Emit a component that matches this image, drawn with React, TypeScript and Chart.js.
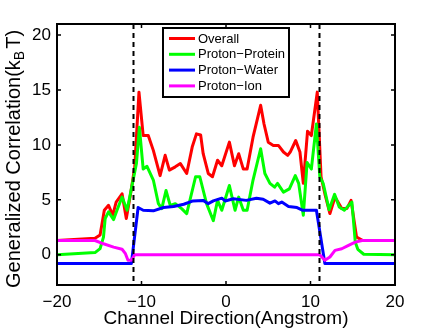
import React, { useEffect, useRef } from "react";
import { Chart, registerables } from "chart.js";
Chart.register(...registerables);

// ---- data ----
const overallX = [-20, -15.5, -14.9, -14.4, -13.9, -13.4, -13.0, -12.3, -11.8, -11.3, -10.8, -10.3, -9.8, -9.2, -8.6, -7.8, -7.2, -6.7, -6.0, -5.4, -4.65, -4.0, -3.5, -3.0, -2.7, -2.1, -1.6, -1.0, -0.5, 0.4, 1.0, 1.5, 2.05, 2.5, 3.2, 4.1, 4.5, 5.0, 5.6, 6.2, 6.8, 7.3, 7.6, 8.25, 8.75, 9.15, 9.65, 10.1, 10.8, 11.25, 11.7, 12.3, 12.9, 13.7, 14.3, 14.8, 15.45, 16.2, 20];
const overallY = [1.3, 1.5, 1.8, 4.05, 4.5, 3.6, 4.8, 5.55, 3.3, 5.5, 8.0, 14.8, 10.85, 10.85, 9.5, 7.2, 9.05, 7.7, 8.0, 8.3, 7.4, 9.8, 11.0, 10.9, 9.2, 7.4, 7.1, 8.6, 8.1, 10.25, 8.1, 9.2, 7.8, 7.8, 10.7, 13.6, 11.9, 10.25, 9.95, 9.95, 9.35, 9.05, 9.35, 10.4, 9.35, 6.5, 11.25, 10.85, 14.8, 7.1, 5.55, 3.75, 5.25, 4.2, 4.2, 4.95, 1.6, 1.3, 1.3];

const proteinX = [-20, -15.5, -14.9, -14.5, -14.3, -13.9, -13.3, -12.9, -12.3, -11.7, -11.2, -10.6, -10.25, -9.8, -9.35, -8.6, -8.0, -7.6, -7.1, -6.6, -6.0, -5.25, -4.65, -3.6, -3.1, -2.3, -1.5, -1.0, -0.5, 0.4, 1.07, 1.5, 2.05, 2.5, 3.2, 4.1, 4.6, 5.2, 5.75, 6.1, 6.8, 7.5, 8.2, 8.6, 9.15, 9.6, 10.1, 10.7, 11.1, 11.5, 12.2, 12.85, 13.4, 14.0, 14.9, 15.3, 15.6, 16.3, 20];
const proteinY = [0, 0.2, 0.56, 1.6, 3.3, 3.9, 3.2, 4.05, 5.25, 4.05, 6.0, 8.3, 11.6, 7.8, 8.05, 6.8, 4.65, 4.2, 5.85, 4.5, 4.65, 4.2, 3.75, 7.1, 7.1, 4.65, 3.1, 4.95, 4.05, 6.3, 4.05, 5.25, 4.05, 4.05, 6.8, 9.65, 7.4, 6.5, 6.15, 6.5, 5.7, 6.0, 7.2, 6.5, 3.6, 8.4, 7.8, 11.9, 7.1, 6.5, 4.1, 5.5, 4.35, 4.05, 4.8, 1.15, 0.5, 0.05, 0];

const waterX = [-20, -11.2, -10.4, -9.8, -8.6, -7.4, -6.2, -5.0, -3.9, -2.7, -2.1, -1.5, -0.5, -0.1, 0.87, 2.4, 3.6, 4.4, 5.2, 5.8, 6.2, 6.6, 7.4, 8.4, 9.1, 10.7, 11.7, 20];
const waterY = [-0.8, -0.8, 4.3, 4.05, 4.0, 4.3, 4.4, 4.6, 4.9, 4.95, 4.65, 4.9, 5.15, 4.9, 5.1, 4.95, 5.15, 5.05, 4.7, 4.9, 4.65, 4.8, 4.4, 4.3, 4.05, 4.05, -0.8, -0.8];

const ionX = [-20, -15.5, -14.5, -13.3, -12.3, -11.9, -11.6, -11.2, -10.8, 11.1, 11.7, 12.3, 12.9, 13.7, 14.5, 15.3, 16.1, 20];
const ionY = [1.3, 1.3, 1.0, 0.7, 0.5, 0.1, -0.5, -0.5, 0, 0, -0.5, -0.2, 0.4, 0.55, 0.86, 1.15, 1.3, 1.3];

const seriesNames = ["Overall", "Proton\u2212Protein", "Proton\u2212Water", "Proton\u2212Ion"];
const seriesColors = ["#ff0000", "#00ff00", "#0000ff", "#ff00ff"];
const xTicks = [-20, -10, 0, 10, 20];
const yTicks = [0, 5, 10, 15, 20];
const channelBounds = [-11, 11];
const xRange = [-20, 20];
const yRange = [-2.75, 21];
const xTitle = "Channel Direction(Angstrom)";
const yTitleParts = ["Generalized Correlation(k", "B", "T)"];

const FONT = "'Liberation Sans', Arial, Helvetica, sans-serif";

function pts(xs: number[], ys: number[]) {
  return xs.map((x, i) => ({ x, y: ys[i] }));
}

const decor = {
  id: "matlabDecor",
  afterDatasetsDraw(chart: any) {
    const { ctx, chartArea, scales } = chart;
    ctx.save();
    ctx.strokeStyle = "#000";
    ctx.lineWidth = 2;
    ctx.setLineDash([5, 4]);
    channelBounds.forEach((b) => {
      const px = Math.round(scales.x.getPixelForValue(b)) + 0.5;
      ctx.beginPath();
      ctx.moveTo(px, chartArea.top);
      ctx.lineTo(px, chartArea.bottom);
      ctx.stroke();
    });
    ctx.restore();
  },
  afterDraw(chart: any) {
    const { ctx, chartArea, scales } = chart;
    const { left, right, top, bottom } = chartArea;
    ctx.save();
    // frame
    ctx.strokeStyle = "#000";
    ctx.lineWidth = 2;
    ctx.setLineDash([]);
    ctx.strokeRect(left, top, right - left, bottom - top);
    // inward ticks
    ctx.lineWidth = 1.5;
    const tl = 4;
    xTicks.forEach((v) => {
      const px = scales.x.getPixelForValue(v);
      ctx.beginPath();
      ctx.moveTo(px, bottom);
      ctx.lineTo(px, bottom - tl);
      ctx.moveTo(px, top);
      ctx.lineTo(px, top + tl);
      ctx.stroke();
    });
    yTicks.forEach((v) => {
      const py = scales.y.getPixelForValue(v);
      ctx.beginPath();
      ctx.moveTo(left, py);
      ctx.lineTo(left + tl, py);
      ctx.moveTo(right, py);
      ctx.lineTo(right - tl, py);
      ctx.stroke();
    });
    // legend
    const lx = left + 106;
    const ly = top + 4;
    const lw = 126;
    const lh = 69;
    ctx.fillStyle = "#fff";
    ctx.fillRect(lx, ly, lw, lh);
    ctx.lineWidth = 2;
    ctx.strokeRect(lx, ly, lw, lh);
    ctx.font = `13px ${FONT}`;
    ctx.textBaseline = "middle";
    ctx.textAlign = "left";
    seriesNames.forEach((name, i) => {
      const ry = ly + 10.5 + i * 15.8;
      ctx.strokeStyle = seriesColors[i];
      ctx.lineWidth = 3;
      ctx.beginPath();
      ctx.moveTo(lx + 6, ry);
      ctx.lineTo(lx + 32, ry);
      ctx.stroke();
      ctx.fillStyle = "#000";
      ctx.fillText(name, lx + 35, ry + 0.5);
    });
    // x title
    ctx.fillStyle = "#000";
    ctx.font = `19px ${FONT}`;
    ctx.textAlign = "center";
    ctx.textBaseline = "alphabetic";
    ctx.fillText(xTitle, (left + right) / 2, 324);
    // y title (rotated, with subscript)
    const big = `20px ${FONT}`;
    const small = `14px ${FONT}`;
    ctx.font = big;
    const w0 = ctx.measureText(yTitleParts[0]).width;
    const wT = ctx.measureText(yTitleParts[2]).width;
    ctx.font = small;
    const wB = ctx.measureText(yTitleParts[1]).width;
    const total = w0 + wB + 2 + wT;
    ctx.translate(20, 159);
    ctx.rotate(-Math.PI / 2);
    ctx.textAlign = "left";
    let cx = -total / 2;
    ctx.font = big;
    ctx.fillText(yTitleParts[0], cx, 0);
    cx += w0;
    ctx.font = small;
    ctx.fillText(yTitleParts[1], cx, 4);
    cx += wB + 2;
    ctx.font = big;
    ctx.fillText(yTitleParts[2], cx, 0);
    ctx.restore();
  },
};

export default function App() {
  const ref = useRef<HTMLCanvasElement | null>(null);
  useEffect(() => {
    if (!ref.current) return;
    const datasets = [
      { label: seriesNames[3], data: pts(ionX, ionY), borderColor: seriesColors[3], order: 0 },
      { label: seriesNames[2], data: pts(waterX, waterY), borderColor: seriesColors[2], order: 1 },
      { label: seriesNames[1], data: pts(proteinX, proteinY), borderColor: seriesColors[1], order: 2 },
      { label: seriesNames[0], data: pts(overallX, overallY), borderColor: seriesColors[0], order: 3 },
    ].map((d) => ({
      ...d,
      borderWidth: 3,
      pointRadius: 0,
      tension: 0,
      fill: false,
      borderJoinStyle: "round" as const,
    }));
    const chart = new Chart(ref.current, {
      type: "line",
      data: { datasets },
      options: {
        animation: false,
        responsive: false,
        devicePixelRatio: 1,
        layout: { padding: { left: 0, top: 24, right: 41, bottom: 0 } },
        plugins: { legend: { display: false }, tooltip: { enabled: false } },
        scales: {
          x: {
            type: "linear",
            min: xRange[0],
            max: xRange[1],
            grid: { display: false },
            border: { display: false },
            afterBuildTicks: (s: any) => {
              s.ticks = xTicks.map((v) => ({ value: v }));
            },
            afterFit: (s: any) => {
              s.height = 43;
            },
            ticks: {
              color: "#000",
              padding: -1,
              maxRotation: 0,
              font: { family: FONT, size: 17 },
              callback: (v: any) => String(v).replace("-", "\u2212"),
            },
          },
          y: {
            type: "linear",
            min: yRange[0],
            max: yRange[1],
            grid: { display: false },
            border: { display: false },
            afterBuildTicks: (s: any) => {
              s.ticks = yTicks.map((v) => ({ value: v }));
            },
            afterFit: (s: any) => {
              s.width = 57;
            },
            ticks: {
              color: "#000",
              padding: -2,
              font: { family: FONT, size: 17 },
              callback: (v: any) => String(v).replace("-", "\u2212"),
            },
          },
        },
      },
      plugins: [decor],
    });
    return () => chart.destroy();
  }, []);
  return (
    <div style={{ position: "fixed", left: 0, top: 0, width: 436, height: 328, background: "#fff" }}>
      <canvas ref={ref} width={436} height={328} style={{ width: 436, height: 328, display: "block" }} />
    </div>
  );
}
